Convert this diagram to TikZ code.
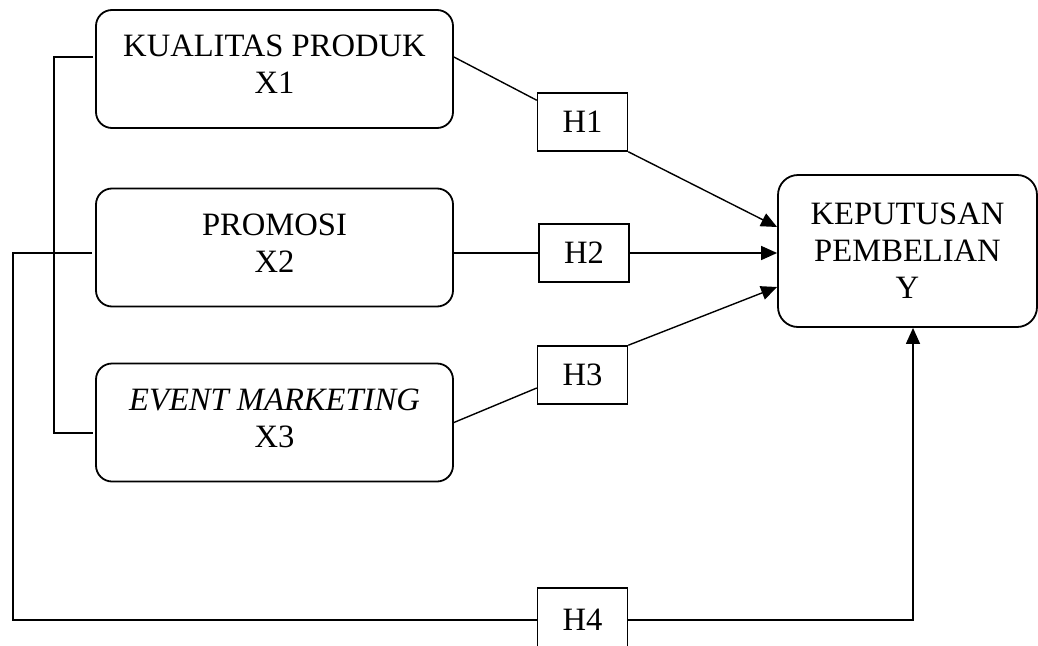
\documentclass[tikz,border=0pt]{standalone}
\usepackage{fontspec}
\setmainfont{Liberation Serif}
\usetikzlibrary{arrows.meta,calc}

\begin{document}
\begin{tikzpicture}[x=1pt, y=-1pt, font=\fontsize{32.6}{37}\selectfont,
  varbox/.style={draw, line width=1.8pt, rounded corners=16pt, align=center, minimum width=357pt, minimum height=118pt, inner sep=0pt},
  xbox/.style={varbox, text depth=9pt},
  hbox/.style={draw, line width=1.5pt, minimum width=90pt, minimum height=58pt, inner sep=0pt},
  link/.style={line width=1.4pt},
  arr/.style={line width=1.4pt, -{Triangle[length=16pt, width=14pt]}}]
\useasboundingbox (0,0) rectangle (1038,645);
% variabel
\node[xbox] (x1) at (274.5,69) {KUALITAS PRODUK\\X1};
\node[xbox] (x2) at (274.5,247.5) {PROMOSI\\X2};
\node[xbox] (x3) at (274.5,422.5) {\textit{EVENT MARKETING}\\X3};
\node[varbox, rounded corners=20pt, minimum width=259pt, minimum height=152pt] (y) at (907.5,251) {KEPUTUSAN\\PEMBELIAN\\Y};
% hipotesis
\node[hbox] (h1) at (582.5,122) {H1};
\node[hbox] (h2) at (584,253) {H2};
\node[hbox] (h3) at (582.5,375) {H3};
\node[hbox, minimum height=64pt] (h4) at (582.5,620) {H4};
% garis
\draw[link] ($(x1.west)+(-2,-12)$) -- (54,57) -- (54,433) -- ($(x3.west)+(-2,10.5)$);
\draw[link] ($(x1.east)+(0,-12)$) -- ($(h1.north west)+(0,8)$);
\draw[arr] (h1.south east) -- ($(y.west)+(0,-24)$);
\draw[link] (x2.east |- h2) -- (h2.west);
\draw[arr] (h2.east) -- (y.west |- h2);
\draw[link] (x3.east) -- ($(h3.west)+(0,13)$);
\draw[arr] (h3.north east) -- ($(y.west)+(0,36)$);
\coordinate (ybase) at ($(y.south)+(5.5,0)$);
\draw[link] ($(x2.west |- h2)+(-3,0)$) -- (13,253) -- (13,620) -- (h4.west);
\draw[arr] (h4.east) -- (ybase |- h4) -- (ybase);
\end{tikzpicture}
\end{document}
